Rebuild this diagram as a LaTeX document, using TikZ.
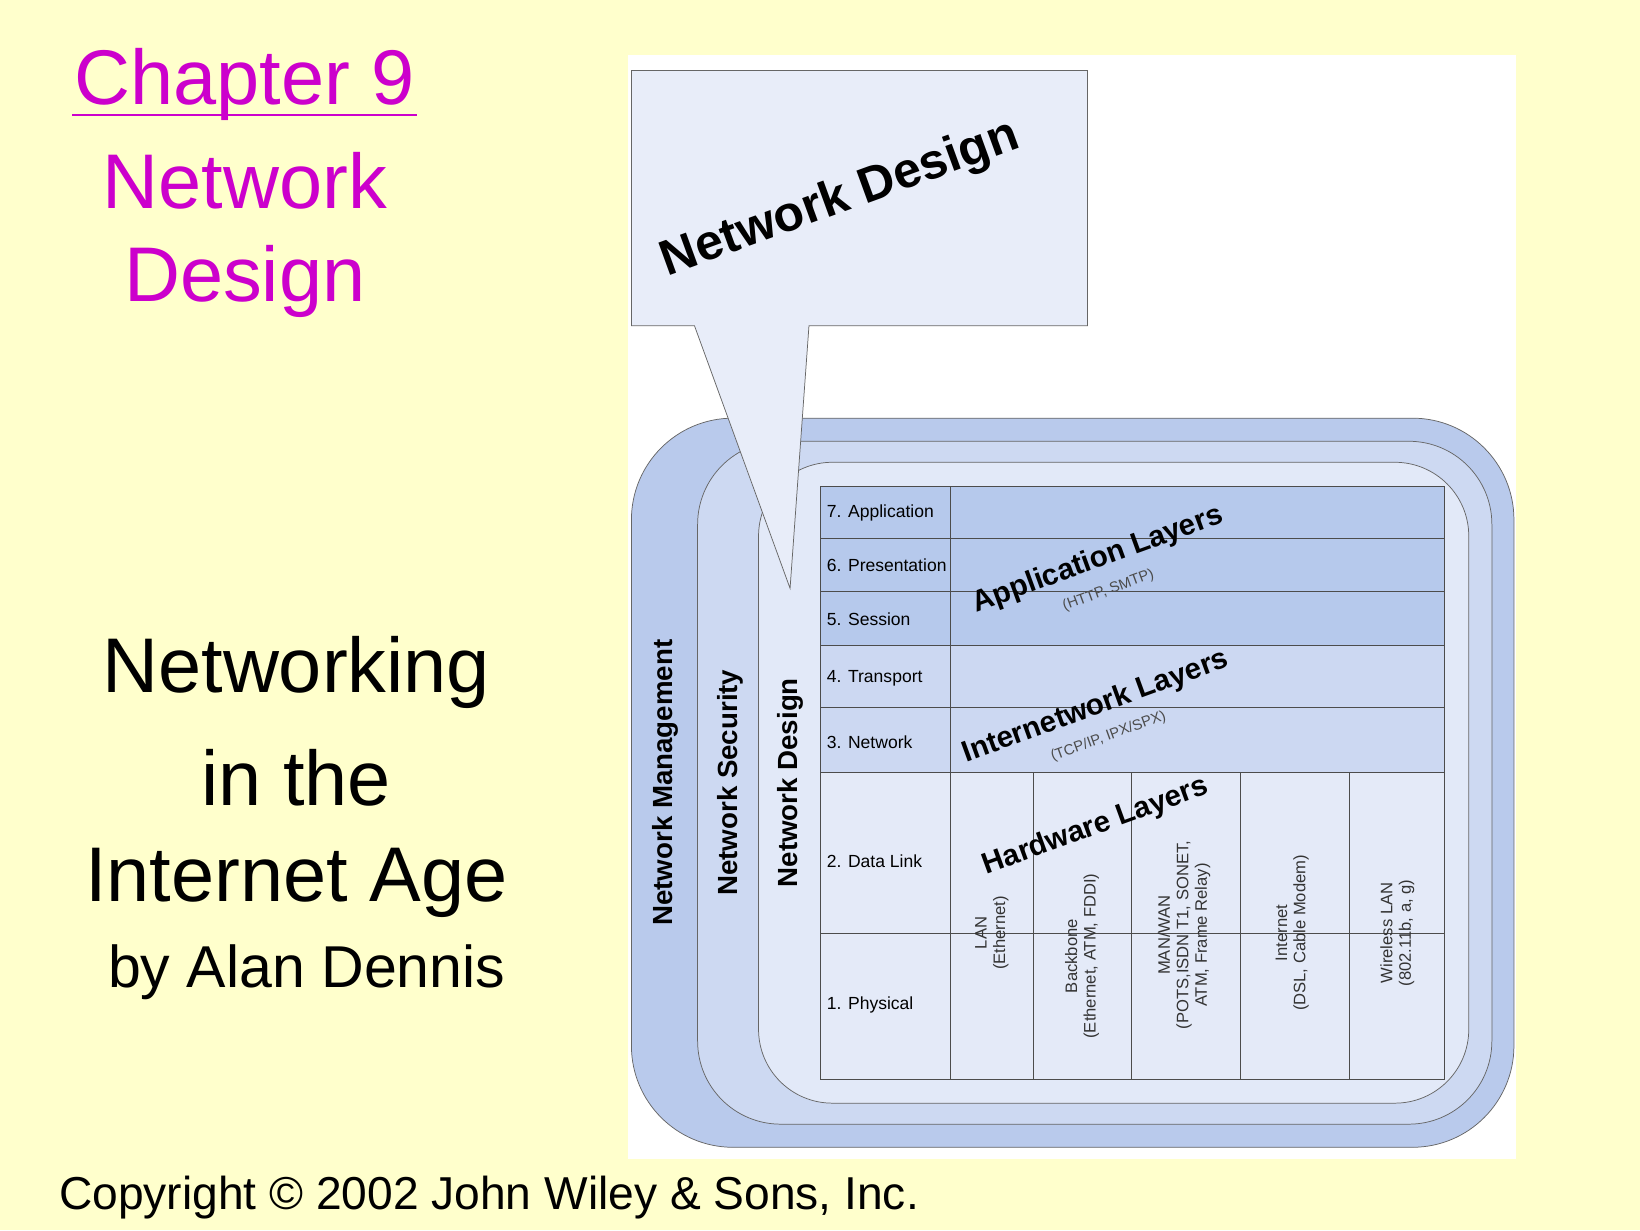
\documentclass[tikz,border=0pt]{standalone}
\usepackage{fontspec}
\setmainfont{Liberation Sans}
\usetikzlibrary{positioning}
\definecolor{slide}{HTML}{FFFFCC}
\definecolor{mag}{HTML}{CC00CC}
\definecolor{ringA}{HTML}{B9CAEC}
\definecolor{ringB}{HTML}{CDD9F2}
\definecolor{ringC}{HTML}{E2E9F8}
\definecolor{appfill}{HTML}{B6C9EC}
\definecolor{netfill}{HTML}{CCD8F2}
\definecolor{hwfill}{HTML}{E4EAF8}
\tikzset{
  ring/.style={draw=black!60, rounded corners=55},
  cell/.style={draw=black!70},
  layer/.style={font=\fontsize{9.5}{11}\selectfont, anchor=west, inner sep=1pt},
  side/.style={font=\bfseries\fontsize{15}{17}\selectfont, rotate=90},
  big/.style={font=\fontsize{42}{48}\selectfont},
  hw/.style={font=\fontsize{9}{10}\selectfont, rotate=90, align=center, text=black!80, inner sep=1pt},
  group/.style={font=\bfseries\fontsize{16}{18}\selectfont, rotate=20, inner sep=1pt},
  sub/.style={font=\fontsize{8}{9}\selectfont, rotate=20, text=black!70, inner sep=1pt}
}
\begin{document}
\begin{tikzpicture}[x=0.02cm, y=-0.02cm]
  \useasboundingbox[fill=slide] (0,0) rectangle (1561,1171);
  % left titles
  \node[big, text=mag] (chap) at (233,80) {Chapter 9};
  \draw[mag, line width=1.2pt] ([shift={(4,10)}]chap.base west) -- ([shift={(-4,10)}]chap.base east);
  \node[big, text=mag] (net) at (233,172) {Network};
  \node[big, text=mag] (des) at (233,268) {Design};
  \node[big] (nw) at (282,640) {Networking};
  \node[big] (inthe) at (282,740) {in the};
  \node[big] (age) at (282,840) {Internet Age};
  \node[font=\fontsize{32}{36}\selectfont] (by) at (292,925) {by Alan Dennis};
  \node[font=\fontsize{25}{30}\selectfont, anchor=west] (copy) at (50,1140) {Copyright © 2002 John Wiley \& Sons, Inc.};
  % figure panel
  \fill[white] (598,52) rectangle (1443,1103);
  \draw[ring, fill=ringA] (601,398) rectangle (1441,1092);
  \draw[ring, fill=ringB, rounded corners=45] (664,420) rectangle (1420,1070);
  \draw[ring, fill=ringC, rounded corners=40] (722,440) rectangle (1398,1050);
  % table
  \fill[appfill] (781,463) rectangle (1375,614);
  \fill[netfill] (781,614) rectangle (1375,735);
  \fill[hwfill] (781,735) rectangle (1375,1027);
  \draw[cell] (781,463) rectangle (1375,1027);
  \foreach \y in {512,563,614,673,735,888}
    \draw[cell] (781,\y) -- (1375,\y);
  \draw[cell] (905,463) -- (905,1027);
  \foreach \x in {984,1077,1181,1284}
    \draw[cell] (\x,735) -- (\x,1027);
  \node[layer] (l7) at (785,488) {7. Application};
  \node[layer] (l6) at (785,538) {6. Presentation};
  \node[layer] (l5) at (785,589) {5. Session};
  \node[layer] (l4) at (785,646) {4. Transport};
  \node[layer] (l3) at (785,706) {3. Network};
  \node[layer] (l2) at (785,820) {2. Data Link};
  \node[layer] (l1) at (785,957) {1. Physical};
  \node[group] (app) at (1045,533) {Application Layers};
  \node[sub] (appsub) at (1055,562) {(HTTP, SMTP)};
  \node[group] (inet) at (1043,673) {Internetwork Layers};
  \node[sub] (inetsub) at (1055,701) {(TCP/IP, IPX/SPX)};
  \node[group] (hwl) at (1043,787) {Hardware Layers};
  \node[hw] (lan) at (944,888) {LAN\\(Ethernet)};
  \node[hw] (bb) at (1030,910) {Backbone\\(Ethernet, ATM, FDDI)};
  \node[hw] (man) at (1127,890) {MAN/WAN\\(POTS,ISDN T1, SONET,\\ATM, Frame Relay)};
  \node[hw] (inet2) at (1230,888) {Internet\\(DSL, Cable Modem)};
  \node[hw] (wlan) at (1330,888) {Wireless LAN\\(802.11b, a, g)};
  % ring labels
  \node[side] (mgmt) at (633,745) {Network Management};
  \node[side] (sec) at (695,745) {Network Security};
  \node[side] (ndes) at (752,745) {Network Design};
  % callout
  \draw[black!60, fill=ringC!80!white] (601,67) -- (1035,67) -- (1035,310) -- (770,310)
    -- (752,560) -- (661,310) -- (601,310) -- cycle;
  \node[font=\bfseries\fontsize{27}{30}\selectfont, rotate=20] (callout) at (800,190) {Network Design};
\end{tikzpicture}
\end{document}
